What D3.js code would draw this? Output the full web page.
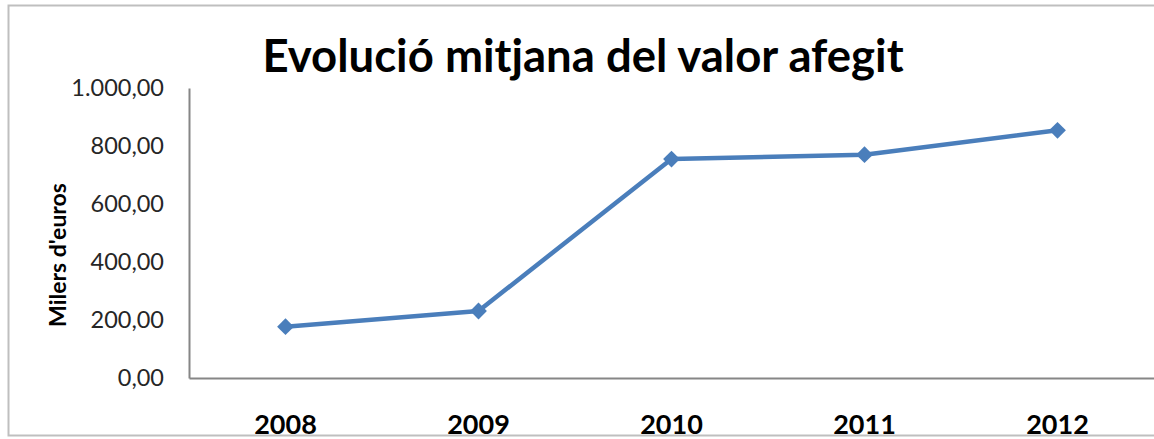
<!DOCTYPE html>
<html><head><meta charset="utf-8">
<script src="https://cdn.jsdelivr.net/npm/d3@7"></script>
<style>body{margin:0;background:#fff;overflow:hidden}svg{display:block}</style>
</head><body>
<svg id="c" width="1154" height="439"></svg>
<script>
const years = ["2008","2009","2010","2011","2012"];
const values = [177, 231, 755, 770, 854];
const yTicks = [0, 200, 400, 600, 800, 1000];
const title = "Evolució mitjana del valor afegit";
const yTitle = "Milers d'euros";

const svg = d3.select("#c");
const L = 189, R = 1154, T = 88, B = 378;
const x = d3.scaleBand().domain(years).range([L, R]);
const y = d3.scaleLinear().domain([0, 1000]).range([B, T]);

// outer border
svg.append("rect").attr("x", 8.5).attr("y", 5.5).attr("width", 1160).attr("height", 430)
  .attr("fill", "none").attr("stroke", "#bfbfbf").attr("stroke-width", 2);

svg.append("text").attr("x", 583).attr("y", 72).attr("text-anchor", "middle")
  .attr("font-family", "Lato").attr("font-weight", "bold").attr("font-size", 45.5)
  .attr("fill", "#000").text(title);

const fmt = v => d3.format(",.2f")(v).replace(/,/g, "X").replace(/\./g, ",").replace(/X/g, ".");

const ya = svg.append("g").attr("transform", `translate(${L},0)`)
  .call(d3.axisLeft(y).tickValues(yTicks).tickSize(0).tickPadding(25).tickFormat(fmt));
ya.select(".domain").attr("stroke", "#868686").attr("stroke-width", 2);
ya.selectAll("text").attr("font-family", "Lato").attr("font-size", 23.5).attr("fill", "#262626");

const xa = svg.append("g").attr("transform", `translate(0,${B})`)
  .call(d3.axisBottom(x).tickSize(0).tickPadding(0));
xa.select(".domain").attr("stroke", "#868686").attr("stroke-width", 2);
xa.selectAll("text").attr("font-family", "Lato").attr("font-weight", "bold").attr("font-size", 27)
  .attr("fill", "#000").attr("dy", null).attr("y", 56);

svg.append("text").attr("transform", `translate(66,255) rotate(-90)`).attr("text-anchor", "middle")
  .attr("font-family", "Lato").attr("font-weight", "bold").attr("font-size", 23)
  .attr("fill", "#000").text(yTitle);

const cx = d => x(d) + x.bandwidth() / 2;
const pts = years.map((d, i) => [cx(d), y(values[i])]);
svg.append("path").attr("d", d3.line()(pts)).attr("fill", "none")
  .attr("stroke", "#4a7ebb").attr("stroke-width", 4.5).attr("stroke-linejoin", "round");
svg.selectAll(".m").data(pts).enter().append("path")
  .attr("d", d3.symbol(d3.symbolDiamond2, 180))
  .attr("transform", d => `translate(${d[0]},${d[1]})`)
  .attr("fill", "#4a7ebb");
</script>
</body></html>
